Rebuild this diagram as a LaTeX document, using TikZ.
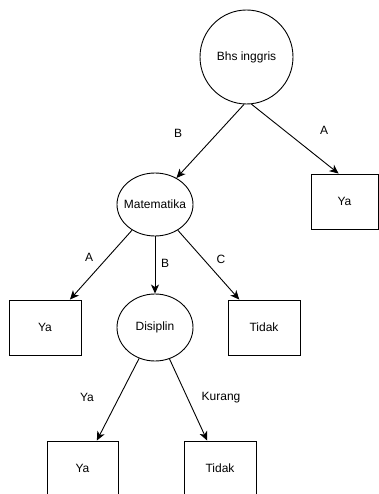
\documentclass[tikz,border=0pt]{standalone}
\usepackage{fontspec}
\setmainfont{Liberation Sans}
\usetikzlibrary{shapes.geometric,arrows.meta}
\begin{document}
\begin{tikzpicture}[x=1pt,y=-1pt,
  every node/.style={font=\fontsize{12}{14}\selectfont, inner sep=0pt},
  every label/.style={font=\fontsize{12}{14}\selectfont, inner sep=0pt},
  oval/.style={draw, ellipse, line width=0.9pt},
  box/.style={draw, rectangle, line width=0.9pt},
  lbl/.style={},
  conn/.style={line width=0.9pt, -{Stealth[length=9pt,width=8pt,inset=2.5pt]}}]
\useasboundingbox (0,0) rectangle (379,494);
\begin{scope}
\clip (0,0) rectangle (379,494);
\node[oval, minimum width=93pt, minimum height=94pt, label=center:{Bhs inggris}] (bhs) at (246.5,57) {};
\node[box, minimum width=67pt, minimum height=55pt] (ya1) at (344.5,201.5) {Ya};
\node[oval, minimum width=76pt, minimum height=63pt, label=center:{Matematika}] (mat) at (155,204.5) {};
\node[box, minimum width=72pt, minimum height=55pt] (ya2) at (45,327.5) {Ya};
\node[oval, minimum width=76pt, minimum height=67pt, label=center:{Disiplin}] (dis) at (155,327.5) {};
\node[box, minimum width=72pt, minimum height=55pt] (tid1) at (264,327.5) {Tidak};
\node[box, minimum width=71pt, minimum height=55pt] (ya3) at (82.5,468.5) {Ya};
\node[box, minimum width=72pt, minimum height=55pt] (tid2) at (220,468.5) {Tidak};
\end{scope}
\draw[conn] (bhs.-93) -- (mat.51);
\draw[conn] (bhs.-84.5) -- (ya1.102);
\draw[conn] (mat) -- (ya2);
\draw[conn] (mat) -- (dis);
\draw[conn] (mat) -- (tid1);
\draw[conn] (dis) -- (ya3);
\draw[conn] (dis) -- (tid2);
\node[lbl] (lB1) at (178,133) {B};
\node[lbl] (lA1) at (324,130) {A};
\node[lbl] (lA2) at (89,257) {A};
\node[lbl] (lB2) at (165,263) {B};
\node[lbl] (lC) at (221,259) {C};
\node[lbl] (lYa) at (87,397) {Ya};
\node[lbl] (lK) at (221,398) {Kurang};
\end{tikzpicture}
\end{document}
